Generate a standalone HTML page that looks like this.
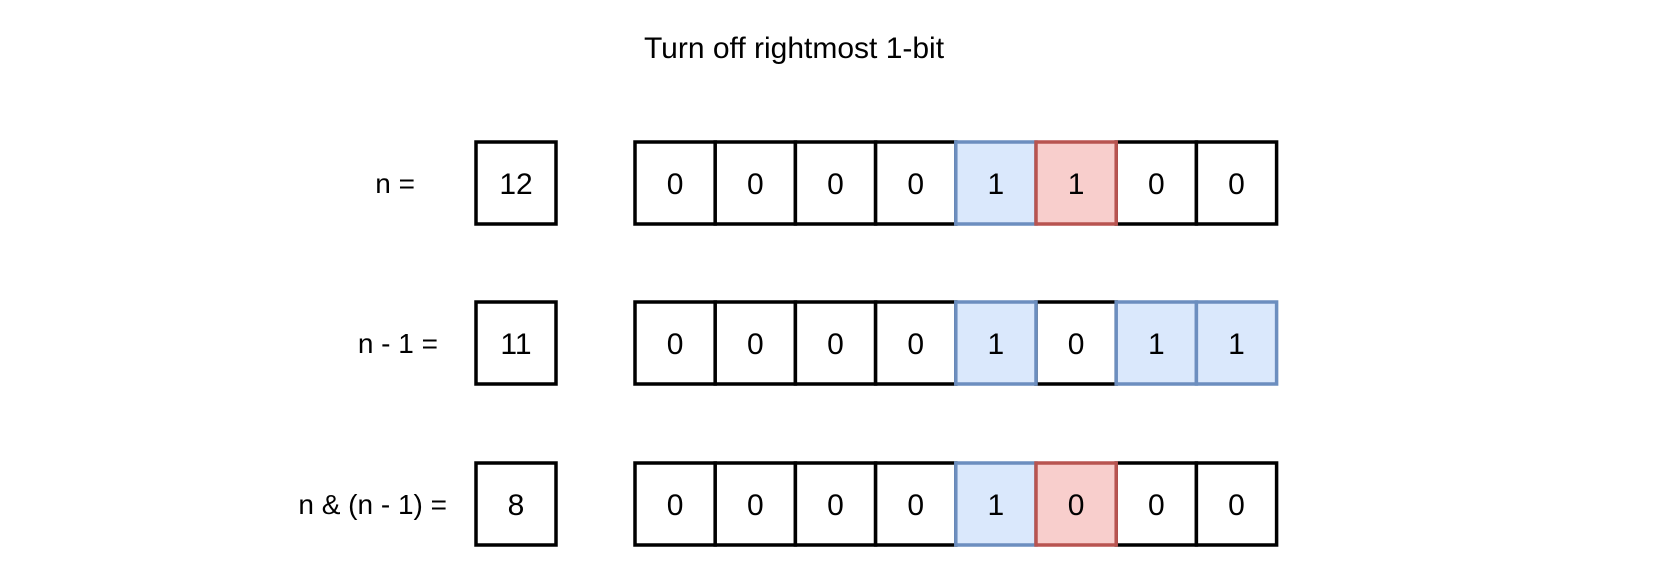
<!DOCTYPE html>
<html><head><meta charset="utf-8"><style>
html,body{margin:0;padding:0;background:#fff;}
svg{display:block;font-family:"Comic Sans MS","Liberation Sans",sans-serif;}
</style></head><body>
<svg id="c" width="1676" height="570" viewBox="0 0 1676 570">
<text x="794" y="58" font-size="30" text-anchor="middle">Turn off rightmost 1-bit</text>
</svg>
<script>
const labels = ["n =", "n - 1 =", "n & (n - 1) ="];
const values = ["12", "11", "8"];
const bits = [[0,0,0,0,1,1,0,0],[0,0,0,0,1,0,1,1],[0,0,0,0,1,0,0,0]];
const highlights = [["","","","","b","r","",""],["","","","","b","","b","b"],["","","","","b","r","",""]];
const svg = document.getElementById('c');
const NS = 'http://www.w3.org/2000/svg';
const rowY = [142, 302, 463], H = 82, cellW = 80.2, bitX0 = 635;
const labelRight = [415, 438, 447];
function mk(tag, attrs){const e=document.createElementNS(NS,tag);for(const k in attrs)e.setAttribute(k,attrs[k]);svg.appendChild(e);return e;}
labels.forEach((lab,i)=>{
  const y=rowY[i];
  const t=mk('text',{x:labelRight[i],y:y+H/2+10,'font-size':28,'text-anchor':'end'});
  t.textContent=lab;
  
  
  const r=mk('rect',{x:476,y:y,width:80,height:H,fill:'#fff',stroke:'#000','stroke-width':3.5});
  
  
  const v=mk('text',{x:516,y:y+H/2+11,'font-size':30,'text-anchor':'middle'});
  v.textContent=values[i];
  
  
  const order=[];
  bits[i].forEach((b,j)=>order.push(j));
  order.sort((a,b)=>(highlights[i][a]?1:0)-(highlights[i][b]?1:0));
  order.forEach(j=>{
    const h=highlights[i][j];
    const fill=h==='b'?'#dae8fc':h==='r'?'#f8cecc':'#fff';
    const stroke=h==='b'?'#6c8ebf':h==='r'?'#b85450':'#000';
    const c=mk('rect',{x:bitX0+j*cellW,y:y,width:cellW,height:H,fill:fill,stroke:stroke,'stroke-width':3.5});
    
    
  });
  bits[i].forEach((b,j)=>{
    const t2=mk('text',{x:bitX0+j*cellW+cellW/2,y:y+H/2+11,'font-size':30,'text-anchor':'middle'});
    t2.textContent=String(b);
    
    
  });
});
</script>
</body></html>
